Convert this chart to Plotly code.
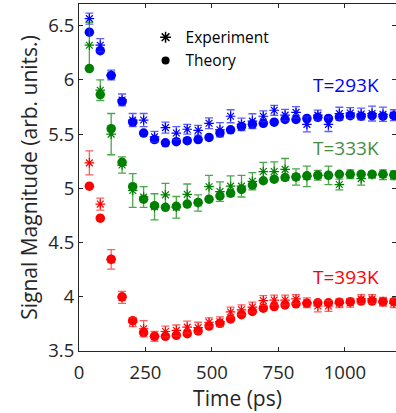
import plotly.graph_objects as go

time_ps = [39, 80, 121, 162, 202, 243, 284, 325, 366, 407, 448, 489, 530, 570, 611,
           652, 693, 734, 775, 816, 857, 898, 938, 979, 1020, 1061, 1102, 1143, 1184]

blue_theory = [6.44, 6.27, 6.04, 5.80, 5.61, 5.51, 5.45, 5.42, 5.43, 5.44, 5.45, 5.47, 5.51, 5.54, 5.57,
               5.59, 5.60, 5.61, 5.635, 5.635, 5.645, 5.655, 5.645, 5.66, 5.67, 5.665, 5.67, 5.665, 5.67]
blue_exp = [6.565, 6.32, 6.045, 5.815, 5.63, 5.63, 5.475, 5.56, 5.51, 5.545, 5.535, 5.60, 5.54, 5.665, 5.59,
            5.62, 5.665, 5.72, 5.675, 5.70, 5.59, 5.675, 5.59, 5.69, 5.695, 5.685, 5.69, 5.683, 5.675]
blue_err = [0.05, 0.06, 0.045, 0.055, 0.06, 0.06, 0.05, 0.05, 0.06, 0.045, 0.045, 0.05, 0.066, 0.06, 0.058,
            0.068, 0.05, 0.046, 0.053, 0.053, 0.069, 0.046, 0.066, 0.058, 0.05, 0.054, 0.069, 0.066, 0.05]

green_theory = [6.105, 5.865, 5.55, 5.24, 5.015, 4.90, 4.84, 4.825, 4.835, 4.855, 4.87, 4.90, 4.93, 4.955, 4.99,
                5.03, 5.07, 5.085, 5.10, 5.105, 5.115, 5.12, 5.12, 5.13, 5.13, 5.13, 5.13, 5.13, 5.125]
green_exp = [6.32, 5.905, 5.50, 5.215, 4.98, 4.92, 4.83, 4.94, 4.825, 4.945, 4.865, 5.015, 4.97, 5.02, 5.02,
             5.065, 5.155, 5.155, 5.175, 5.105, 5.11, 5.12, 5.12, 5.035, 5.13, 5.09, 5.125, 5.125, 5.12]
green_err = [0.21, 0.095, 0.19, 0.075, 0.155, 0.095, 0.12, 0.105, 0.10, 0.095, 0.075, 0.105, 0.09, 0.095, 0.10,
             0.08, 0.085, 0.09, 0.10, 0.075, 0.095, 0.045, 0.085, 0.05, 0.04, 0.06, 0.03, 0.045, 0.04]

red_theory = [5.02, 4.725, 4.345, 4.0, 3.78, 3.67, 3.635, 3.635, 3.645, 3.66, 3.685, 3.73, 3.755, 3.795, 3.835,
              3.865, 3.895, 3.91, 3.925, 3.935, 3.94, 3.945, 3.945, 3.95, 3.955, 3.96, 3.96, 3.955, 3.955]
red_exp = [5.235, 4.855, 4.345, 3.995, 3.765, 3.705, 3.635, 3.68, 3.69, 3.72, 3.715, 3.765, 3.77, 3.86, 3.88,
           3.905, 3.965, 3.97, 3.97, 3.98, 3.945, 3.915, 3.915, 3.94, 3.945, 3.98, 3.98, 3.955, 3.94]
red_err = [0.11, 0.055, 0.09, 0.055, 0.04, 0.075, 0.045, 0.05, 0.05, 0.055, 0.05, 0.04, 0.045, 0.045, 0.045,
           0.045, 0.045, 0.045, 0.045, 0.04, 0.045, 0.055, 0.05, 0.04, 0.04, 0.04, 0.04, 0.04, 0.04]

series = [
    ("T=293K", blue_theory, blue_exp, blue_err, "rgb(0,0,255)", "rgba(40,40,255,0.75)", "rgb(0,0,255)", 5.95),
    ("T=333K", green_theory, green_exp, green_err, "rgb(0,128,0)", "rgba(0,128,0,0.7)", "rgb(70,140,70)", 5.37),
    ("T=393K", red_theory, red_exp, red_err, "rgb(255,0,0)", "rgba(255,40,40,0.75)", "rgb(255,0,0)", 4.18),
]

FONT = "Open Sans"
AX = "#262626"

fig = go.Figure()
annotations = []
for name, th, ex, er, col, ecol, lcol, ly in series:
    fig.add_trace(go.Scatter(
        x=time_ps, y=th, mode="markers", showlegend=False,
        marker=dict(symbol="circle", size=9.5, color=col, line=dict(width=0)),
    ))
    fig.add_trace(go.Scatter(
        x=time_ps, y=ex, mode="markers", showlegend=False,
        marker=dict(symbol="asterisk-open", size=8, color=col, line=dict(width=1.2, color=col)),
        error_y=dict(type="data", array=er, visible=True, color=ecol, thickness=1.3, width=4),
    ))
    annotations.append(dict(x=1135, y=ly, xref="x", yref="y", text=name, showarrow=False,
                            xanchor="right", yanchor="middle",
                            font=dict(family=FONT, size=19, color=lcol)))

# legend entries
fig.add_trace(go.Scatter(x=[None], y=[None], mode="markers", name="Experiment",
                         marker=dict(symbol="asterisk-open", size=9, color="black",
                                     line=dict(width=1.5, color="black"))))
fig.add_trace(go.Scatter(x=[None], y=[None], mode="markers", name="Theory",
                         marker=dict(symbol="circle", size=8, color="black")))

fig.update_layout(
    width=396, height=413,
    margin=dict(l=79, r=0, t=4, b=62),
    paper_bgcolor="white", plot_bgcolor="white",
    font=dict(family=FONT, color=AX),
    annotations=annotations,
    showlegend=True,
    legend=dict(x=0.21, y=0.952, xanchor="left", yanchor="top",
                bgcolor="rgba(0,0,0,0)", borderwidth=0, itemwidth=30,
                font=dict(family=FONT, size=15.5, color="black"),
                tracegroupgap=0),
    xaxis=dict(range=[0, 1192], tickvals=[0, 250, 500, 750, 1000],
               showgrid=False, zeroline=False, showline=True, linecolor=AX, linewidth=1,
               mirror="ticks", ticks="inside", ticklen=4, tickcolor=AX, tickwidth=1,
               ticklabelstandoff=5,
               tickfont=dict(family=FONT, size=18.5, color=AX),
               title=dict(text="Time (ps)", font=dict(family=FONT, size=21, color=AX), standoff=6)),
    yaxis=dict(range=[3.5, 6.7], tickvals=[3.5, 4, 4.5, 5, 5.5, 6, 6.5],
               ticktext=["3.5", "4", "4.5", "5", "5.5", "6", "6.5"],
               showgrid=False, zeroline=False, showline=True, linecolor=AX, linewidth=1,
               mirror="ticks", ticks="inside", ticklen=4, tickcolor=AX, tickwidth=1,
               tickfont=dict(family=FONT, size=18.5, color=AX),
               title=dict(text="Signal Magnitude (arb. units.)",
                          font=dict(family=FONT, size=21, color=AX), standoff=4)),
    hovermode=False,
)

fig.write_html("out.html")
